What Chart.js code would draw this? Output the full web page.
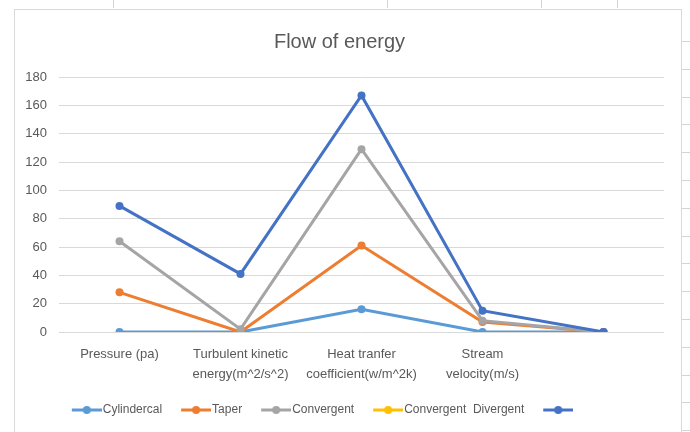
<!DOCTYPE html>
<html>
<head>
<meta charset="utf-8">
<script src="https://cdn.jsdelivr.net/npm/chart.js@4/dist/chart.umd.min.js"></script>
<style>
  html, body { margin: 0; padding: 0; background: #fff; }
  body { width: 690px; height: 432px; position: relative; overflow: hidden; }
  #frame { position: absolute; left: 14px; top: 9px; width: 666px; height: 430px; border: 1px solid #d9d9d9; background: #fff; }
  .vt { position: absolute; top: 0; width: 1px; height: 8px; background: #d4d4d4; }
  .ht { position: absolute; left: 682px; width: 8px; height: 1px; background: #d4d4d4; }
</style>
</head>
<body>
<div id="frame"><canvas id="flowChart" width="666" height="430"></canvas></div>
<script>
// Chart values
const categories = [
    'Pressure (pa)',
    ['Turbulent kinetic', 'energy(m^2/s^2)'],
    ['Heat tranfer', 'coefficient(w/m^2k)'],
    ['Stream', 'velocity(m/s)'],
    ''
];
const cylindercal = [0, 0, 16, 0, 0];
const taper = [28, 0, 61, 7, 0];
const convergent = [64, 2, 129, 8, 0];
const convergentDivergent = [null, null, null, null, null];
const unnamed = [89, 41, 167, 15, 0];
const yTicks = [0, 20, 40, 60, 80, 100, 120, 140, 160, 180];

// spreadsheet cell marks around the chart
[113, 387, 541, 617].forEach(x => {
    const d = document.createElement('div');
    d.className = 'vt';
    d.style.left = x + 'px';
    document.body.appendChild(d);
});
for (let y = 41; y < 432; y += 27.8) {
    const d = document.createElement('div');
    d.className = 'ht';
    d.style.top = Math.round(y) + 'px';
    document.body.appendChild(d);
}

const FONT = "'Liberation Sans', Arial, sans-serif";
const TEXT = '#595959';
const LEGEND_SHIFT = -18;

// line-with-dot marker for the legend, drawn at the right end of the image
// so it sits right next to its text
function legendMarker(color) {
    const c = document.createElement('canvas');
    c.width = 38;
    c.height = 10;
    const g = c.getContext('2d');
    g.strokeStyle = color;
    g.lineWidth = 3;
    g.beginPath();
    g.moveTo(8, 5);
    g.lineTo(38, 5);
    g.stroke();
    g.fillStyle = color;
    g.beginPath();
    g.arc(23, 5, 4, 0, Math.PI * 2);
    g.fill();
    return c;
}

function series(label, data, color, order) {
    return {
        label: label,
        data: data,
        borderColor: color,
        backgroundColor: color,
        borderWidth: 3,
        pointRadius: 4,
        pointHoverRadius: 4,
        pointBackgroundColor: color,
        pointBorderWidth: 0,
        tension: 0,
        order: order
    };
}

const shiftLegend = {
    id: 'shiftLegend',
    afterLayout(chart) {
        chart.legend.left += LEGEND_SHIFT;
        chart.legend.right += LEGEND_SHIFT;
    }
};

const ctx = document.getElementById('flowChart').getContext('2d');
const myChart = new Chart(ctx, {
    type: 'line',
    plugins: [shiftLegend],
    data: {
        labels: categories,
        datasets: [
            series('Cylindercal', cylindercal, '#5B9BD5', 5),
            series('Taper', taper, '#ED7D31', 4),
            series('Convergent', convergent, '#A5A5A5', 3),
            series('Convergent  Divergent', convergentDivergent, '#FFC000', 2),
            series('', unnamed, '#4472C4', 1)
        ]
    },
    options: {
        responsive: false,
        animation: false,
        layout: { padding: { left: 0, right: 17, top: 8, bottom: 14 } },
        plugins: {
            tooltip: { enabled: false },
            title: {
                display: true,
                text: 'Flow of energy',
                color: TEXT,
                font: { family: FONT, size: 20, weight: 'normal' },
                padding: { top: 12, bottom: 23 }
            },
            legend: {
                position: 'bottom',
                labels: {
                    color: TEXT,
                    font: { family: FONT, size: 12 },
                    usePointStyle: true,
                    pointStyleWidth: 28,
                    boxHeight: 10,
                    padding: 16,
                    generateLabels: chart => chart.data.datasets.map((ds, i) => ({
                        text: ds.label,
                        fillStyle: ds.borderColor,
                        strokeStyle: ds.borderColor,
                        lineWidth: 0,
                        pointStyle: legendMarker(ds.borderColor),
                        fontColor: TEXT,
                        hidden: false,
                        datasetIndex: i
                    }))
                }
            }
        },
        scales: {
            x: {
                offset: true,
                grid: { display: false },
                border: { display: false },
                ticks: {
                    color: TEXT,
                    font: { family: FONT, size: 13, lineHeight: '20px' },
                    maxRotation: 0,
                    autoSkip: false,
                    padding: 4
                }
            },
            y: {
                min: 0,
                max: 180,
                afterBuildTicks: axis => { axis.ticks = yTicks.map(v => ({ value: v })); },
                afterFit: axis => { axis.width = 44; },
                grid: { color: '#d9d9d9', lineWidth: 1, drawTicks: false },
                border: { display: false },
                ticks: {
                    color: TEXT,
                    font: { family: FONT, size: 13 },
                    padding: 12
                }
            }
        }
    }
});
</script>
</body>
</html>
